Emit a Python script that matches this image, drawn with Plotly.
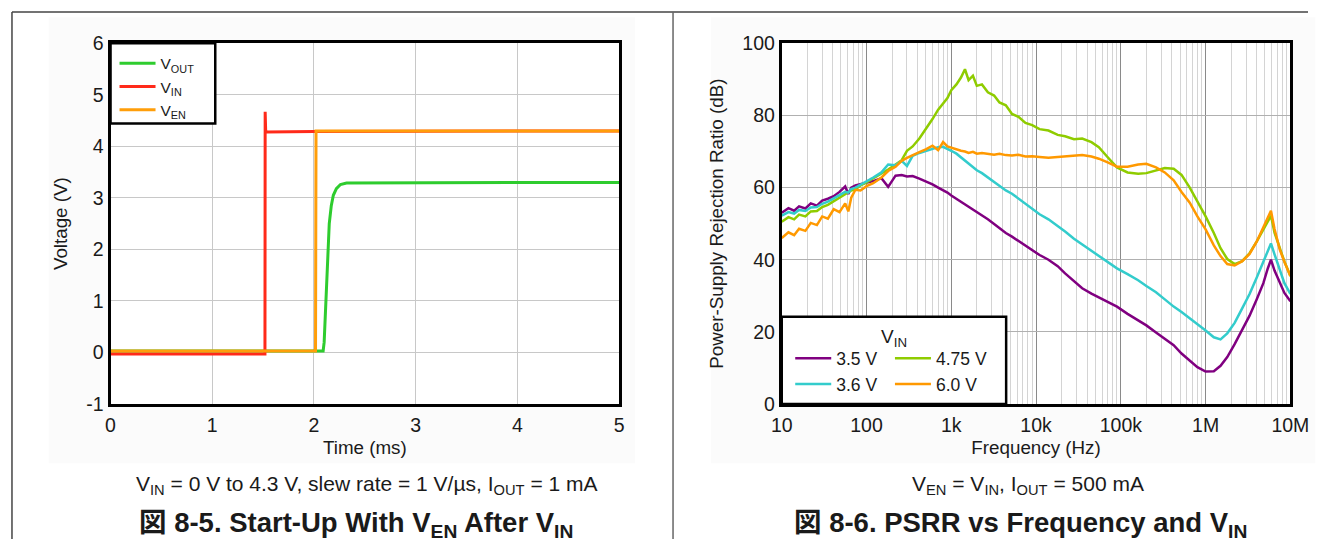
import plotly.graph_objects as go

# ---------------- Data: Start-up (left chart) ----------------
t_vout = [0.0, 2.09, 2.10, 2.115, 2.13, 2.15, 2.17, 2.19, 2.22, 2.26, 2.32, 3.0, 4.0, 5.0]
v_vout = [0.03, 0.03, 0.20, 1.00, 1.80, 2.50, 2.85, 3.05, 3.18, 3.26, 3.29, 3.30, 3.30, 3.30]

t_vin = [0.0, 1.518, 1.52, 1.525, 1.535, 2.0, 5.0]
v_vin = [-0.03, -0.03, 4.67, 4.30, 4.28, 4.29, 4.30]

t_ven = [0.0, 2.015, 2.02, 5.0]
v_ven = [0.03, 0.03, 4.30, 4.30]

y1_tickvals = [-1, 0, 1, 2, 3, 4, 5, 6]
y1_ticktext = ["-1", "0", "1", "2", "3", "4", "5", "6"]

# ---------------- Data: PSRR (right chart) ----------------
freq_hz = [10, 12, 14, 16, 19, 22, 26, 30, 35, 41, 48, 56, 61, 66, 74, 85, 100, 120, 150, 180,
           220, 260, 300, 350, 420, 500, 600, 700, 800, 900, 1000, 1150, 1300, 1450, 1600, 1800,
           2000, 2300, 2700, 3200, 3700, 4400, 5200, 6200, 7500, 9000, 11000, 14000, 18000, 22000,
           28000, 35000, 45000, 55000, 70000, 90000, 120000, 160000, 200000, 260000, 330000,
           420000, 520000, 650000, 800000, 1000000, 1250000, 1500000, 1800000, 2200000, 2700000,
           3300000, 4000000, 4800000, 5400000, 5900000, 6500000, 7500000, 8500000, 10000000]

psrr_3v5 = [53.0, 54.3, 53.6, 54.8, 54.2, 55.6, 55.0, 56.4, 56.9, 57.6, 58.8, 60.3, 58.2, 60.0, 60.6,
            60.9, 61.2, 61.8, 62.6, 60.2, 63.3, 63.5, 63.1, 63.2, 62.5, 61.8, 60.9, 60.0, 59.3, 58.6,
            57.8, 56.9, 56.0, 55.3, 54.6, 53.9, 53.3, 52.4, 51.2, 49.9, 48.7, 47.4, 46.4, 45.2, 43.8,
            42.5, 41.3, 40.0, 38.2, 36.2, 34.0, 32.1, 30.6, 29.5, 28.3, 27.0, 25.0, 23.3, 21.8, 19.8,
            18.1, 16.3, 14.0, 12.0, 10.2, 9.0, 9.1, 10.6, 13.0, 16.6, 20.5, 24.5, 29.0, 33.5, 37.5,
            40.0, 37.0, 33.5, 30.8, 28.5]

psrr_3v6 = [52.2, 53.2, 52.8, 53.8, 53.5, 54.5, 54.6, 55.5, 56.1, 57.0, 57.9, 58.8, 58.6, 59.6, 60.0,
            60.8, 61.6, 62.8, 64.2, 66.4, 66.2, 67.4, 66.0, 68.8, 69.6, 70.2, 70.8, 71.2, 71.3, 70.8,
            70.2, 69.4, 68.4, 67.5, 66.6, 65.6, 64.8, 64.0, 62.8, 61.5, 60.3, 59.2, 58.3, 57.0, 55.5,
            54.0, 52.6, 51.2, 49.4, 47.8, 45.8, 44.2, 42.6, 41.2, 39.4, 37.6, 36.0, 34.3, 32.7, 31.0,
            29.0, 27.0, 25.5, 23.8, 22.2, 20.4, 18.5, 17.9, 19.6, 22.5, 26.5, 30.5, 35.0, 39.3, 42.5,
            44.5, 41.5, 37.0, 33.5, 30.5]

psrr_4v75 = [50.5, 51.8, 51.2, 52.5, 52.0, 53.4, 53.5, 54.6, 55.2, 56.2, 57.2, 58.0, 58.5, 59.2, 59.6,
             60.6, 61.4, 62.5, 63.7, 65.0, 66.4, 67.6, 70.2, 71.4, 73.6, 76.2, 79.0, 81.6, 83.4, 84.8,
             87.0, 88.6, 90.5, 92.8, 89.8, 91.0, 88.2, 88.6, 86.4, 85.5, 83.6, 82.8, 80.4, 79.6, 77.9,
             77.3, 76.2, 75.8, 74.6, 74.2, 73.4, 73.6, 72.6, 71.2, 68.4, 65.6, 64.2, 63.8, 64.0, 64.8,
             65.4, 65.2, 63.5, 60.0, 56.2, 52.0, 47.4, 43.2, 40.2, 38.8, 39.6, 41.8, 45.0, 48.3, 50.8,
             52.2, 47.5, 43.0, 39.5, 35.5]

psrr_6v0 = [46.0, 47.6, 46.8, 48.6, 48.0, 50.2, 49.6, 52.0, 51.4, 54.0, 53.2, 55.6, 53.4, 57.2, 59.4,
            59.2, 60.4, 61.2, 62.8, 64.6, 65.8, 67.4, 68.2, 69.0, 69.8, 70.6, 71.6, 70.4, 72.6, 71.4,
            71.0, 70.6, 70.2, 70.0, 69.6, 69.9, 69.4, 69.6, 69.3, 69.1, 69.4, 69.0, 68.9, 69.1, 68.6,
            68.7, 68.5, 68.3, 68.5, 68.7, 68.9, 69.0, 68.6, 68.0, 67.0, 65.8, 65.8, 66.4, 66.6, 65.6,
            64.2, 62.0, 58.8, 55.8, 52.0, 48.4, 44.0, 41.0, 38.8, 38.4, 39.6, 41.6, 45.0, 49.0, 52.0,
            53.6, 48.5, 42.8, 39.4, 35.5]

x_tickvals = [10, 100, 1000, 10000, 100000, 1000000, 10000000]
x_ticktext = ["10", "100", "1k", "10k", "100k", "1M", "10M"]

# ---------------- Layout helpers ----------------
W, H = 1327, 550
# positions below are given in target-picture pixels; the helpers convert to paper fractions,
# compensating the small inset/scale observed in the rendered picture.
SX, OX, SY, OY = 0.98, 10.2, 0.958, 10.8
def X(r):
    return ((r - OX) / SX) / W
def Y(r):
    return 1 - ((r - OY) / SY) / H

FONT = "Liberation Sans, Arial, Noto Sans CJK JP, sans-serif"
TXT = "#1a1a1a"

fig = go.Figure()

# Left chart traces
fig.add_trace(go.Scatter(x=t_vout, y=v_vout, mode="lines", name="V<sub>OUT</sub>",
                         line=dict(color="#2ecc2e", width=3), xaxis="x", yaxis="y", legend="legend"))
fig.add_trace(go.Scatter(x=t_vin, y=v_vin, mode="lines", name="V<sub>IN</sub>",
                         line=dict(color="#ff2a1a", width=3), xaxis="x", yaxis="y", legend="legend"))
fig.add_trace(go.Scatter(x=t_ven, y=v_ven, mode="lines", name="V<sub>EN</sub>",
                         line=dict(color="#ff9e0a", width=3), xaxis="x", yaxis="y", legend="legend"))

# Right chart traces
fig.add_trace(go.Scatter(x=freq_hz, y=psrr_3v5, mode="lines", name="3.5 V",
                         line=dict(color="#800080", width=2.5), xaxis="x2", yaxis="y2", legend="legend2"))
fig.add_trace(go.Scatter(x=freq_hz, y=psrr_4v75, mode="lines", name="4.75 V",
                         line=dict(color="#8fcc00", width=2.5), xaxis="x2", yaxis="y2", legend="legend3"))
fig.add_trace(go.Scatter(x=freq_hz, y=psrr_3v6, mode="lines", name="3.6 V",
                         line=dict(color="#33cccc", width=2.5), xaxis="x2", yaxis="y2", legend="legend2"))
fig.add_trace(go.Scatter(x=freq_hz, y=psrr_6v0, mode="lines", name="6.0 V",
                         line=dict(color="#ff9900", width=2.5), xaxis="x2", yaxis="y2", legend="legend3"))

axis_common = dict(showline=True, linecolor="black", linewidth=3, mirror=True, ticks="",
                   zeroline=False, tickfont=dict(size=19.5, color=TXT),
                   title_font=dict(size=18.8, color=TXT))

minor_vals = [m * 10 ** e for e in range(1, 7) for m in range(2, 10)]

legend_common = dict(bgcolor="rgba(0,0,0,0)", borderwidth=0,
                     xanchor="left", yanchor="top", tracegroupgap=0, itemwidth=36,
                     orientation="v")

shapes = [
    dict(type="rect", xref="paper", yref="paper", x0=X(48), x1=X(636), y0=Y(462), y1=Y(17),
         fillcolor="#fbfbfb", line=dict(width=0), layer="below"),
    dict(type="rect", xref="paper", yref="paper", x0=X(712), x1=X(1318), y0=Y(462), y1=Y(17),
         fillcolor="#fbfbfb", line=dict(width=0), layer="below"),
    dict(type="rect", xref="paper", yref="paper", x0=X(110), x1=X(620), y0=Y(403), y1=Y(43),
         fillcolor="white", line=dict(width=0), layer="below"),
    dict(type="rect", xref="paper", yref="paper", x0=X(783), x1=X(1293), y0=Y(403), y1=Y(43),
         fillcolor="white", line=dict(width=0), layer="below"),
    # legend boxes
    dict(type="rect", xref="paper", yref="paper", x0=X(110), x1=X(215), y0=Y(123), y1=Y(43),
         fillcolor="white", line=dict(color="black", width=2.5), layer="above"),
    dict(type="rect", xref="paper", yref="paper", x0=X(783), x1=X(1008), y0=Y(403), y1=Y(316),
         fillcolor="white", line=dict(color="black", width=2.5), layer="above"),
    # outer frame
    dict(type="line", xref="paper", yref="paper", x0=1 / W, x1=1, y0=1 - 1 / H, y1=1 - 1 / H,
         line=dict(color="#444", width=1.5), layer="above"),
    dict(type="line", xref="paper", yref="paper", x0=1 / W, x1=1 / W, y0=0, y1=1 - 1 / H,
         line=dict(color="#444", width=1.5), layer="above"),
    dict(type="line", xref="paper", yref="paper", x0=X(674), x1=X(674), y0=0, y1=1 - 1 / H,
         line=dict(color="#666", width=1.5), layer="above"),
]

annotations = [
    dict(text="V<sub>IN</sub> = 0 V to 4.3 V, slew rate = 1 V/µs, I<sub>OUT</sub> = 1 mA",
         x=X(367), y=Y(484), xref="paper", yref="paper", showarrow=False,
         xanchor="center", yanchor="middle", font=dict(size=21, family=FONT, color=TXT)),
    dict(text="<b>図 8-5. Start-Up With V<sub>EN</sub> After V<sub>IN</sub></b>",
         x=X(356), y=Y(523), xref="paper", yref="paper", showarrow=False,
         xanchor="center", yanchor="middle", font=dict(size=27.5, family=FONT, color=TXT)),
    dict(text="V<sub>EN</sub> = V<sub>IN</sub>, I<sub>OUT</sub> = 500 mA",
         x=X(1030), y=Y(484), xref="paper", yref="paper", showarrow=False,
         xanchor="center", yanchor="middle", font=dict(size=21, family=FONT, color=TXT)),
    dict(text="<b>図 8-6. PSRR vs Frequency and V<sub>IN</sub></b>",
         x=X(1022), y=Y(523), xref="paper", yref="paper", showarrow=False,
         xanchor="center", yanchor="middle", font=dict(size=27.5, family=FONT, color=TXT)),
    dict(text="V<sub>IN</sub>", x=X(896), y=Y(337), xref="paper", yref="paper", showarrow=False,
         xanchor="center", yanchor="middle", font=dict(size=19, family=FONT, color=TXT)),
]

fig.update_layout(
    width=W, height=H,
    margin=dict(l=0, r=0, t=0, b=0, pad=0),
    paper_bgcolor="white", plot_bgcolor="white",
    font=dict(family=FONT, color=TXT),
    showlegend=True,
    xaxis=dict(domain=[X(110), X(620)], anchor="y", range=[0, 5], dtick=1, tick0=0,
               showgrid=True, gridcolor="#c8c8c8", gridwidth=1, ticklabelstandoff=2,
               title=dict(text="Time (ms)", standoff=6), **axis_common),
    yaxis=dict(domain=[Y(403), Y(43)], anchor="x", range=[-1, 6],
               tickvals=y1_tickvals, ticktext=y1_ticktext,
               showgrid=True, gridcolor="#c8c8c8", gridwidth=1,
               title=dict(text="Voltage (V)", standoff=14), **axis_common),
    xaxis2=dict(domain=[X(783), X(1293)], anchor="y2", type="log", range=[1, 7],
                tickvals=x_tickvals, ticktext=x_ticktext, ticklabelstandoff=2,
                showgrid=True, gridcolor="#8a8a8a", gridwidth=1,
                minor=dict(tickvals=minor_vals, showgrid=True, gridcolor="#d4d4d4", gridwidth=1),
                title=dict(text="Frequency (Hz)", standoff=6), **axis_common),
    yaxis2=dict(domain=[Y(403), Y(43)], anchor="x2", range=[0, 100], dtick=20, tick0=0,
                showgrid=True, gridcolor="#b0b0b0", gridwidth=1,
                title=dict(text="Power-Supply Rejection Ratio (dB)", standoff=14), **axis_common),
    legend=dict(x=X(114), y=Y(46.5), font=dict(size=15.5, family=FONT, color=TXT), **legend_common),
    legend2=dict(x=X(791.5), y=Y(339.5), font=dict(size=17.5, family=FONT, color=TXT), **legend_common),
    legend3=dict(x=X(891.5), y=Y(339.5), font=dict(size=17.5, family=FONT, color=TXT), **legend_common),
    shapes=shapes,
    annotations=annotations,
)

post_js = """
var s = document.createElement('style');
s.innerHTML = 'html,body{margin:0;padding:0;overflow:hidden;}';
document.head.appendChild(s);
"""

fig.write_html("out.html", post_script=post_js, config=dict(displayModeBar=False))
